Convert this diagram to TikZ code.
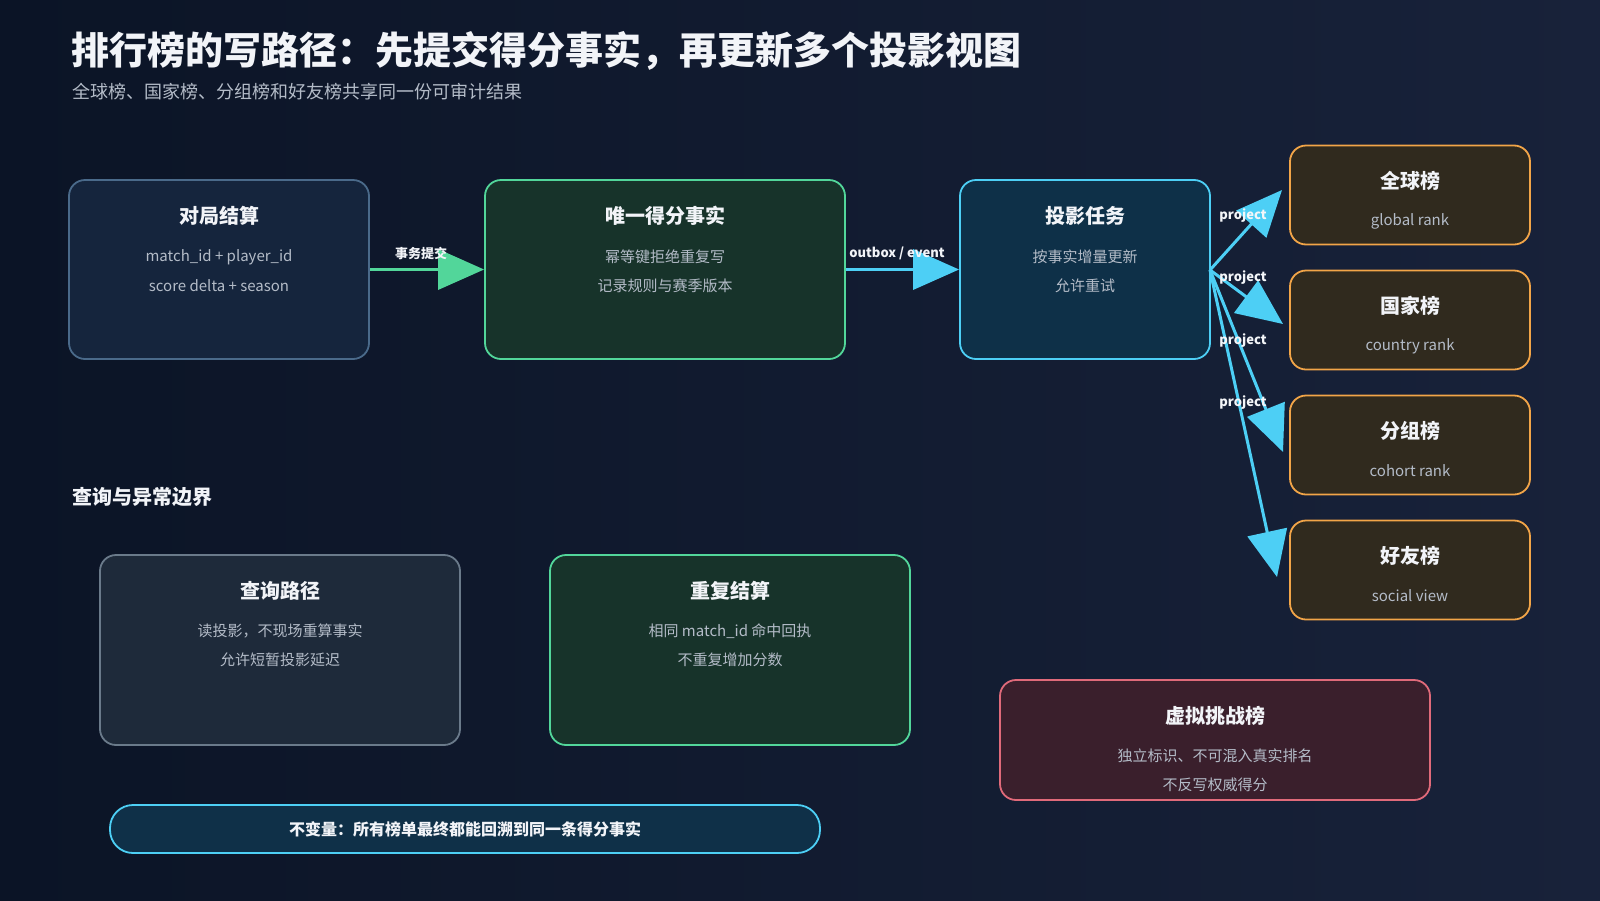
\documentclass[tikz,border=0pt]{standalone}
\usepackage{fontspec}
\setmainfont{Noto Sans CJK SC}
\usetikzlibrary{arrows.meta}
\definecolor{bgA}{HTML}{0B1426}
\definecolor{bgB}{HTML}{18223A}
\definecolor{txt}{HTML}{F2F4F8}
\definecolor{sub}{HTML}{B4BCC8}
\definecolor{cyanc}{HTML}{4DCFF5}
\definecolor{greenc}{HTML}{52D69A}
\tikzset{
  box/.style={draw, line width=1.8pt, rounded corners=16pt},
  ttl/.style={font=\fontsize{20}{24}\selectfont\bfseries, text=txt},
  st/.style={font=\fontsize{15}{18}\selectfont, text=sub},
  lab/.style={font=\fontsize{13}{15}\selectfont\bfseries, text=txt},
  arr/.style={line width=3.5pt, -{Triangle[length=46pt,width=40pt]}},
}
\begin{document}
\begin{tikzpicture}[x=1pt,y=-1pt]
\shade[left color=bgA,right color=bgB] (0,0) rectangle (1600,900);
\useasboundingbox (0,0) rectangle (1600,900);
\node[anchor=base west,text=txt,font=\fontsize{38}{42}\selectfont\bfseries] (title) at (68,64) {排行榜的写路径：先提交得分事实，再更新多个投影视图};
\node[anchor=base west,text=sub,font=\fontsize{18}{21}\selectfont] (subt) at (69,98) {全球榜、国家榜、分组榜和好友榜共享同一份可审计结果};
% top row
\node[box,minimum width=300pt,minimum height=179pt,fill={rgb,255:red,21;green,37;blue,61},draw={rgb,255:red,74;green,106;blue,138}] (b1) at (219,269.5) {};
\node[box,minimum width=360pt,minimum height=179pt,fill={rgb,255:red,23;green,51;blue,42},draw=greenc] (b2) at (665,269.5) {};
\node[box,minimum width=250pt,minimum height=179pt,fill={rgb,255:red,14;green,48;blue,72},draw=cyanc] (b3) at (1085,269.5) {};
\node[ttl] (b1t) at (219,216) {对局结算};
\node[st] (b1a) at (219,257) {match\_id + player\_id};
\node[st] (b1b) at (219,286) {score delta + season};
\node[ttl] (b2t) at (665,216) {唯一得分事实};
\node[st] (b2a) at (665,257) {幂等键拒绝重复写};
\node[st] (b2b) at (665,286) {记录规则与赛季版本};
\node[ttl] (b3t) at (1085,216) {投影任务};
\node[st] (b3a) at (1085,257) {按事实增量更新};
\node[st] (b3b) at (1085,286) {允许重试};
% right column
\tikzset{rk/.style={box,minimum width=240pt,minimum height=99pt,fill={rgb,255:red,48;green,42;blue,30},draw={rgb,255:red,242;green,165;blue,72}}}
\node[rk] (r1) at (1410,195) {};
\node[rk] (r2) at (1410,320) {};
\node[rk] (r3) at (1410,445) {};
\node[rk] (r4) at (1410,570) {};
\foreach \n/\a/\b in {r1/全球榜/global rank,r2/国家榜/country rank,r3/分组榜/cohort rank,r4/好友榜/social view}{
  \node[ttl] at ([yshift=14pt]\n.center) {\a};
  \node[st] at ([yshift=-26pt]\n.center) {\b};
}
% arrows
\draw[arr,greenc] (b1.east) -- (b2.west);
\node[lab] (l1) at (421,253) {事务提交};
\draw[arr,cyanc] (b2.east) -- (b3.west);
\node[lab] (l2) at (897,253) {outbox / event};
\coordinate (src) at (1210,270);
\coordinate (t1) at (1282,190);
\coordinate (t2) at (1283,324);
\coordinate (t3) at (1283,452);
\coordinate (t4) at (1277,577);
\draw[arr,cyanc,line width=3pt] (src) -- (t1);
\draw[arr,cyanc,line width=3pt] (src) -- (t2);
\draw[arr,cyanc,line width=3pt] (src) -- (t3);
\draw[arr,cyanc,line width=3pt] (src) -- (t4);
\foreach \y in {216,278,341,403}{\node[lab,text=txt!85] at (1243,\y) {project};}
% lower
\node[anchor=base west,text=txt,font=\fontsize{20}{24}\selectfont\bfseries] (sec) at (69,504) {查询与异常边界};
\node[box,minimum width=360pt,minimum height=190pt,fill={rgb,255:red,30;green,42;blue,58},draw={rgb,255:red,106;green,122;blue,138}] (q) at (280,650) {};
\node[ttl] at (280,591) {查询路径};
\node[st] at (280,631) {读投影，不现场重算事实};
\node[st] at (280,660) {允许短暂投影延迟};
\node[box,minimum width=360pt,minimum height=190pt,fill={rgb,255:red,23;green,51;blue,42},draw=greenc] (d) at (730,650) {};
\node[ttl] at (730,591) {重复结算};
\node[st] at (730,631) {相同 match\_id 命中回执};
\node[st] at (730,660) {不重复增加分数};
\node[box,minimum width=430pt,minimum height=120pt,fill={rgb,255:red,58;green,31;blue,44},draw={rgb,255:red,224;green,106;blue,122}] (v) at (1215,740) {};
\node[ttl] at (1215,716) {虚拟挑战榜};
\node[st] at (1215,756) {独立标识、不可混入真实排名};
\node[st] at (1215,785) {不反写权威得分};
\node[draw=cyanc,line width=1.8pt,rounded corners=23pt,minimum width=710pt,minimum height=48pt,fill={rgb,255:red,15;green,48;blue,72},text=txt,font=\fontsize{16}{19}\selectfont\bfseries] (inv) at (465,829) {不变量：所有榜单最终都能回溯到同一条得分事实};
\end{tikzpicture}
\end{document}
